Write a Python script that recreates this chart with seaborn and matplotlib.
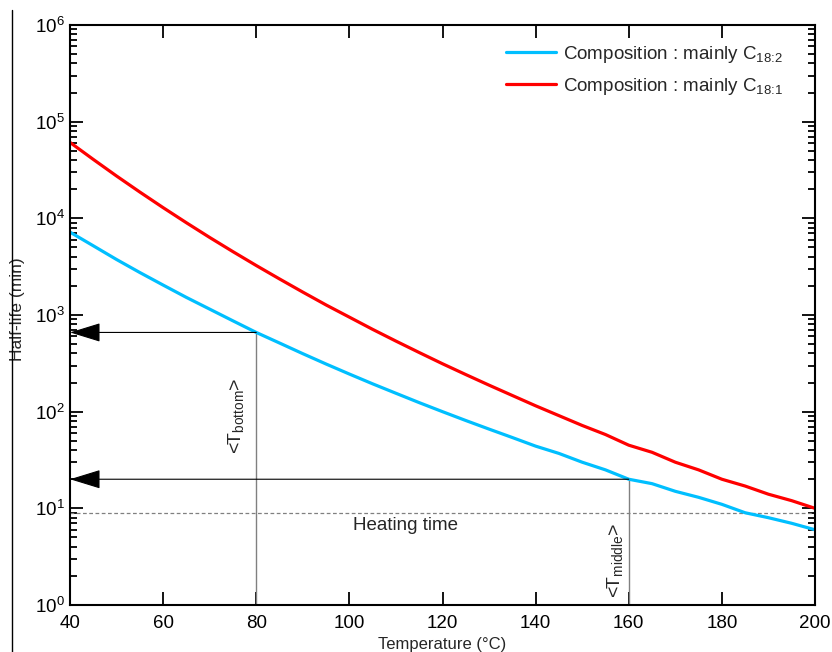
import numpy as np
import pandas as pd
import matplotlib
matplotlib.use('Agg')
import matplotlib.pyplot as plt
import seaborn as sns
from matplotlib.lines import Line2D
from matplotlib.ticker import LogLocator, NullFormatter, LogFormatterSciNotation

# Данні
temperature = [40, 45, 50, 55, 60, 65, 70, 75, 80, 85, 90, 95, 100, 105, 110, 115, 120,
               125, 130, 135, 140, 145, 150, 155, 160, 165, 170, 175, 180, 185, 190, 195, 200]
half_life_c182 = [7200, 5200, 3750, 2750, 2040, 1520, 1150, 870, 660, 513, 398, 311, 245,
                  194, 155, 124, 100, 81, 66, 54, 44, 37, 30, 25, 20, 18, 15, 13, 11, 9, 8, 7, 6]
half_life_c181 = [61000, 40700, 27400, 18700, 12900, 9000, 6340, 4520, 3250, 2360, 1725,
                  1270, 950, 710, 537, 409, 313, 242, 188, 147, 115, 91, 72, 58, 45, 38, 30,
                  25, 20, 17, 14, 12, 10]
series_labels = [r'Composition : mainly C$_{18\!:\!2}$', r'Composition : mainly C$_{18\!:\!1}$']
series_colors = ['#00BFFF', '#FF0000']
y_ticks = [1, 10, 100, 1000, 10000, 100000, 1000000]

t_bottom, hl_bottom = 80, 660
t_middle, hl_middle = 160, 20
heating_time = 9
x_min, x_max = 40, 200
y_min, y_max = 1, 1e6

sns.set_style('ticks')
plt.rcParams['font.family'] = ['Liberation Sans', 'DejaVu Sans']
plt.rcParams['mathtext.fontset'] = 'custom'
plt.rcParams['mathtext.rm'] = 'Liberation Sans'
plt.rcParams['mathtext.it'] = 'Liberation Sans:italic'
plt.rcParams['mathtext.bf'] = 'Liberation Sans:bold'

n = len(temperature)
df = pd.DataFrame({
    'Temperature': temperature * 2,
    'Half-life': half_life_c182 + half_life_c181,
    'Composition': [series_labels[0]] * n + [series_labels[1]] * n,
})

fig = plt.figure(figsize=(8.32, 6.52), dpi=100)
ax = fig.add_axes([70 / 832, 47 / 652, 745 / 832, 580 / 652])

sns.lineplot(data=df, x='Temperature', y='Half-life', hue='Composition',
             palette=series_colors, linewidth=2.3, ax=ax)

ax.set_yscale('log')
ax.set_xlim(x_min, x_max)
ax.set_ylim(y_min, y_max)
ax.set_xticks(range(x_min, x_max + 1, 20))
ax.set_yticks(y_ticks)
ax.yaxis.set_major_formatter(LogFormatterSciNotation())
ax.yaxis.set_minor_locator(LogLocator(base=10, subs=np.arange(2, 10), numticks=100))
ax.yaxis.set_minor_formatter(NullFormatter())

ax.tick_params(which='both', direction='in', top=True, right=True,
               width=1.3, colors='black', labelsize=13.5)
ax.tick_params(which='major', length=9.5)
ax.tick_params(which='minor', length=5)
ax.tick_params(axis='x', which='minor', top=False, bottom=False)
ax.tick_params(axis='x', pad=7)
ax.tick_params(axis='y', pad=3.5)
for s in ax.spines.values():
    s.set_linewidth(1.5)
    s.set_color('black')
    s.set_visible(True)

ax.set_xlabel('Temperature (°C)', fontsize=12)
ax.xaxis.set_label_coords(0.5, -0.055)
ax.set_ylabel('Half-life (min)', fontsize=12.5)
ax.yaxis.set_label_coords(-0.06, 0.51)

# Лінії-позначки
ax.axhline(heating_time, color='#808080', ls=(0, (3, 2)), lw=0.9, zorder=1)
ax.plot([t_bottom, t_bottom], [y_min, hl_bottom], color='#808080', lw=1.0, zorder=1)
ax.plot([t_middle, t_middle], [y_min, hl_middle], color='#808080', lw=1.0, zorder=1)
for t, hl in [(t_bottom, hl_bottom), (t_middle, hl_middle)]:
    ax.annotate('', xy=(x_min, hl), xytext=(t, hl),
                arrowprops=dict(arrowstyle='-|>,head_length=1.95,head_width=0.6',
                                mutation_scale=10, color='black', lw=0.8,
                                shrinkA=0, shrinkB=0), annotation_clip=False)

ax.text(112, 6.6, 'Heating time', fontsize=13.5, ha='center', va='center')
ax.text(75.6, 90, r'<T$_{\mathrm{bottom}}$>', fontsize=14, rotation=90,
        ha='center', va='center')
ax.text(157, 2.9, r'<T$_{\mathrm{middle}}$>', fontsize=14, rotation=90,
        ha='center', va='center')

handles, lbls = ax.get_legend_handles_labels()
ax.legend(handles, lbls, loc='upper left', bbox_to_anchor=(0.585, 0.968),
          frameon=False, fontsize=13.5, handlelength=2.7, handletextpad=0.35,
          labelspacing=0.6, borderpad=0, borderaxespad=0)

# рамка зліва, як на оригіналі
fig.add_artist(Line2D([12 / 832, 12 / 832], [0, 1 - 10 / 652], color='black', lw=1))

fig.savefig('out.png', dpi=100)
